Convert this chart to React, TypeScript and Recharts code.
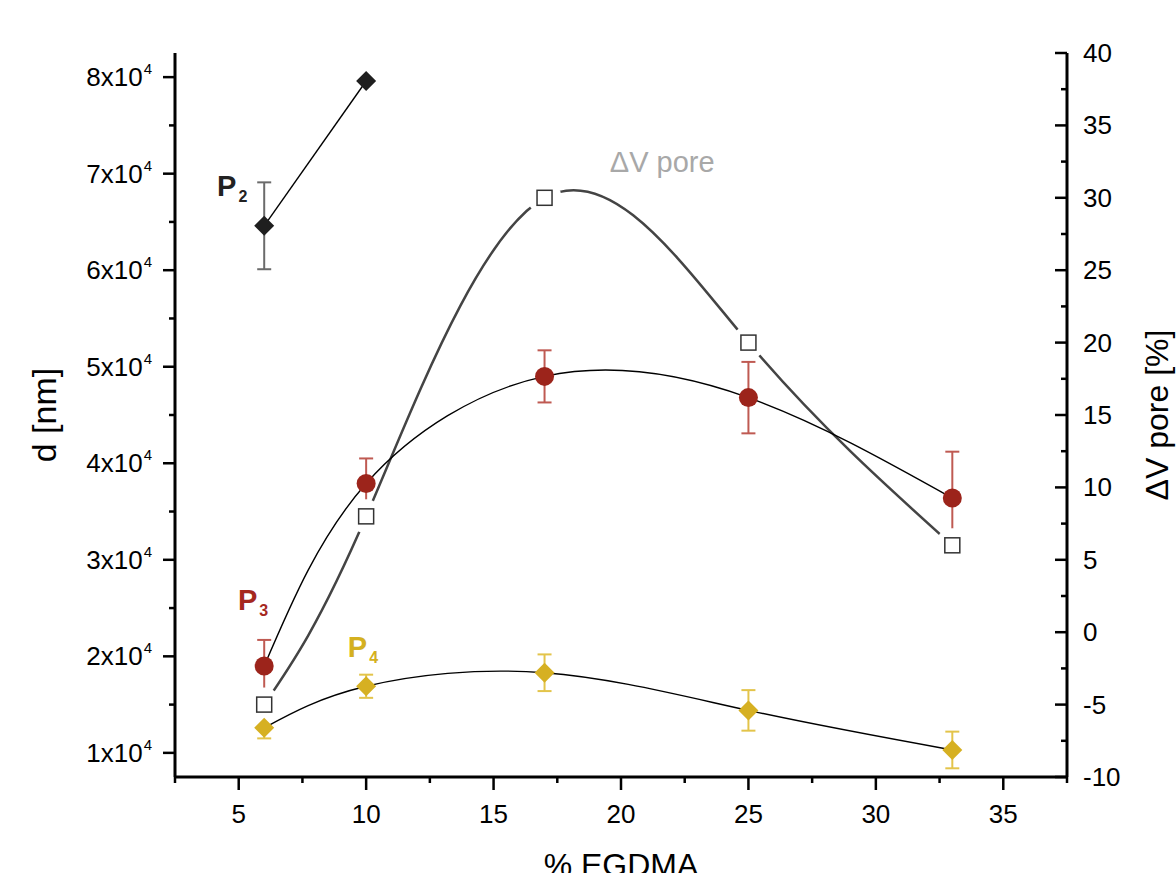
import React from 'react';
import { ComposedChart, Line, XAxis, YAxis, ErrorBar, ReferenceDot } from 'recharts';

// % EGDMA on the x axis
const egdma = [6, 10, 17, 25, 33];
// pore diameters d [nm], left axis
const p2 = [64600, 79600, null, null, null];
const p2Err = [4500, 0, null, null, null];
const p3 = [19000, 37900, 49000, 46800, 36400];
const p3Err = [2700, 2600, 2700, 3700, 4800];
const p4 = [12600, 16900, 18300, 14400, 10300];
const p4Err = [1100, 1200, 1900, 2100, 1900];
// pore volume change, right axis
const dvPore = [-5, 8, 30, 20, 6];

const xTicks = [2.5, 5, 7.5, 10, 12.5, 15, 17.5, 20, 22.5, 25, 27.5, 30, 32.5, 35, 37.5];
const dTicks = [10000, 15000, 20000, 25000, 30000, 35000, 40000, 45000, 50000, 55000, 60000, 65000, 70000, 75000, 80000];
const dvTicks = [-10, -7.5, -5, -2.5, 0, 2.5, 5, 7.5, 10, 12.5, 15, 17.5, 20, 22.5, 25, 27.5, 30, 32.5, 35, 37.5, 40];

const seriesLabels = [
  { main: 'P', sub: '2', x: 4.15, y: 67700, color: '#222222' },
  { main: 'P', sub: '3', x: 4.97, y: 24800, color: '#a5281f' },
  { main: 'P', sub: '4', x: 9.28, y: 19900, color: '#d4b020' },
];

const rows = egdma.map((x, i) => ({
  x,
  p2: p2[i],
  p2Err: p2Err[i],
  p3: p3[i],
  p3Err: p3Err[i],
  p4: p4[i],
  p4Err: p4Err[i],
  dv: dvPore[i],
}));

const FONT = '"Liberation Sans", Arial, sans-serif';

const LeftTick = (props: any) => {
  const { x, y, payload } = props;
  const v = payload.value;
  const major = v % 10000 === 0;
  return (
    <g>
      <line x1={x - (major ? 12 : 6)} x2={x} y1={y} y2={y} stroke="#000" strokeWidth={2.5} />
      {major && (
        <text x={x - 23} y={y + 9} textAnchor="end" fontFamily={FONT} fontSize={26} fill="#000">
          {v / 10000}x10
          <tspan dy={-12} dx={1} fontSize={15}>4</tspan>
        </text>
      )}
    </g>
  );
};

const RightTick = (props: any) => {
  const { x, y, payload } = props;
  const v = payload.value;
  const major = v % 5 === 0;
  return (
    <g>
      <line x1={x - (major ? 12 : 6)} x2={x} y1={y} y2={y} stroke="#000" strokeWidth={2.5} />
      {major && (
        <text x={x + 16} y={y + 9} textAnchor="start" fontFamily={FONT} fontSize={26} fill="#000">
          {v}
        </text>
      )}
    </g>
  );
};

const BottomTick = (props: any) => {
  const { x, y, payload } = props;
  const v = payload.value;
  const major = v % 5 === 0;
  return (
    <g>
      <line x1={x} x2={x} y1={y} y2={y + (major ? 13 : 6)} stroke="#000" strokeWidth={2.5} />
      {major && (
        <text x={x} y={y + 46} textAnchor="middle" fontFamily={FONT} fontSize={26} fill="#000">
          {v}
        </text>
      )}
    </g>
  );
};

const XTitle = (props: any) => {
  const { viewBox } = props;
  return (
    <text x={viewBox.x + viewBox.width / 2} y={viewBox.y + 99} textAnchor="middle" fontFamily={FONT} fontSize={32} fill="#000">
      % EGDMA
    </text>
  );
};

const LeftTitle = (props: any) => {
  const { viewBox } = props;
  const cx = viewBox.x + 56;
  const cy = viewBox.y + viewBox.height / 2;
  return (
    <text x={cx} y={cy} transform={`rotate(-90 ${cx} ${cy})`} textAnchor="middle" fontFamily={FONT} fontSize={34} fill="#000">
      d [nm]
    </text>
  );
};

const RightTitle = (props: any) => {
  const { viewBox } = props;
  const cx = viewBox.x + 101;
  const cy = viewBox.y + viewBox.height / 2;
  return (
    <text x={cx} y={cy} transform={`rotate(-90 ${cx} ${cy})`} textAnchor="middle" fontFamily={FONT} fontSize={32} fill="#000">
      ΔV pore [%]
    </text>
  );
};

const diamond = (fill: string) => (props: any) => {
  const { cx, cy, index } = props;
  if (cx == null || cy == null) return <g key={index} />;
  const r = 10;
  return (
    <polygon
      key={index}
      points={`${cx},${cy - r} ${cx + r},${cy} ${cx},${cy + r} ${cx - r},${cy}`}
      fill={fill}
    />
  );
};

const RedDot = (props: any) => {
  const { cx, cy, index } = props;
  if (cx == null || cy == null) return <g key={index} />;
  return <circle key={index} cx={cx} cy={cy} r={9.5} fill="#9c241b" />;
};

const HaloDot = (props: any) => {
  const { cx, cy, index } = props;
  if (cx == null || cy == null) return <g key={index} />;
  return <circle key={index} cx={cx} cy={cy} r={17} fill="#fff" />;
};

const SquareDot = (props: any) => {
  const { cx, cy, index } = props;
  if (cx == null || cy == null) return <g key={index} />;
  return <rect key={index} x={cx - 7.5} y={cy - 7.5} width={15} height={15} fill="#fff" stroke="#333" strokeWidth={1.5} />;
};

const SeriesLabel = (item: any) => (props: any) => {
  const { cx, cy } = props;
  return (
    <text x={cx} y={cy} fontFamily={FONT} fontWeight="bold" fontSize={29} fill={item.color}>
      {item.main}
      <tspan dy={6} dx={2} fontSize={16}>{item.sub}</tspan>
    </text>
  );
};

const PoreNote = (props: any) => {
  const { cx, cy } = props;
  return (
    <text x={cx} y={cy} fontFamily={FONT} fontSize={29} fill="#a8a8a8">
      ΔV pore
    </text>
  );
};

export default function App() {
  return (
    <div style={{ position: 'absolute', left: 0, top: 0, width: 1176, height: 873, background: '#fff' }}>
      <ComposedChart width={1176} height={873} data={rows} margin={{ top: 53, right: 0, bottom: 0, left: 0 }}>
        <XAxis
          dataKey="x"
          type="number"
          domain={[2.5, 37.5]}
          ticks={xTicks}
          interval={0}
          tickSize={0}
          tickMargin={0}
          tickLine={false}
          tick={<BottomTick />}
          axisLine={{ stroke: '#000', strokeWidth: 3 }}
          height={96}
          label={<XTitle />}
        />
        <XAxis
          xAxisId="top"
          orientation="top"
          dataKey="x"
          type="number"
          domain={[2.5, 37.5]}
          tick={false}
          tickLine={false}
          height={0}
          axisLine={{ stroke: '#000', strokeWidth: 3 }}
        />
        <YAxis
          yAxisId="d"
          width={175}
          type="number"
          domain={[7500, 82500]}
          ticks={dTicks}
          interval={0}
          tickSize={0}
          tickMargin={0}
          tickLine={false}
          tick={<LeftTick />}
          axisLine={{ stroke: '#000', strokeWidth: 3 }}
          label={<LeftTitle />}
        />
        <YAxis
          yAxisId="dv"
          orientation="right"
          width={109}
          type="number"
          domain={[-10, 40]}
          ticks={dvTicks}
          interval={0}
          tickSize={0}
          tickMargin={0}
          tickLine={false}
          tick={<RightTick />}
          axisLine={{ stroke: '#000', strokeWidth: 3 }}
          label={<RightTitle />}
        />

        <Line yAxisId="dv" dataKey="dv" type="natural" stroke="#444" strokeWidth={2.5} dot={HaloDot} activeDot={false} isAnimationActive={false} />

        <Line yAxisId="d" dataKey="p2" type="linear" stroke="#000" strokeWidth={1.4} dot={diamond('#1f1f1f')} activeDot={false} isAnimationActive={false}>
          <ErrorBar dataKey="p2Err" width={7} stroke="#6b6b6b" strokeWidth={2} direction="y" />
        </Line>
        <Line yAxisId="d" dataKey="p3" type="natural" stroke="#000" strokeWidth={1.4} dot={RedDot} activeDot={false} isAnimationActive={false}>
          <ErrorBar dataKey="p3Err" width={7} stroke="#bf5a52" strokeWidth={2} direction="y" />
        </Line>
        <Line yAxisId="d" dataKey="p4" type="natural" stroke="#000" strokeWidth={1.4} dot={diamond('#d6b022')} activeDot={false} isAnimationActive={false}>
          <ErrorBar dataKey="p4Err" width={7} stroke="#e3c44a" strokeWidth={2} direction="y" />
        </Line>

        <Line yAxisId="dv" dataKey="dv" type="natural" stroke="none" dot={SquareDot} activeDot={false} isAnimationActive={false} />

        {seriesLabels.map((item) => (
          <ReferenceDot key={item.sub} yAxisId="d" x={item.x} y={item.y} r={0} shape={SeriesLabel(item)} />
        ))}
        <ReferenceDot yAxisId="d" x={19.56} y={70200} r={0} shape={PoreNote} />
      </ComposedChart>
    </div>
  );
}
